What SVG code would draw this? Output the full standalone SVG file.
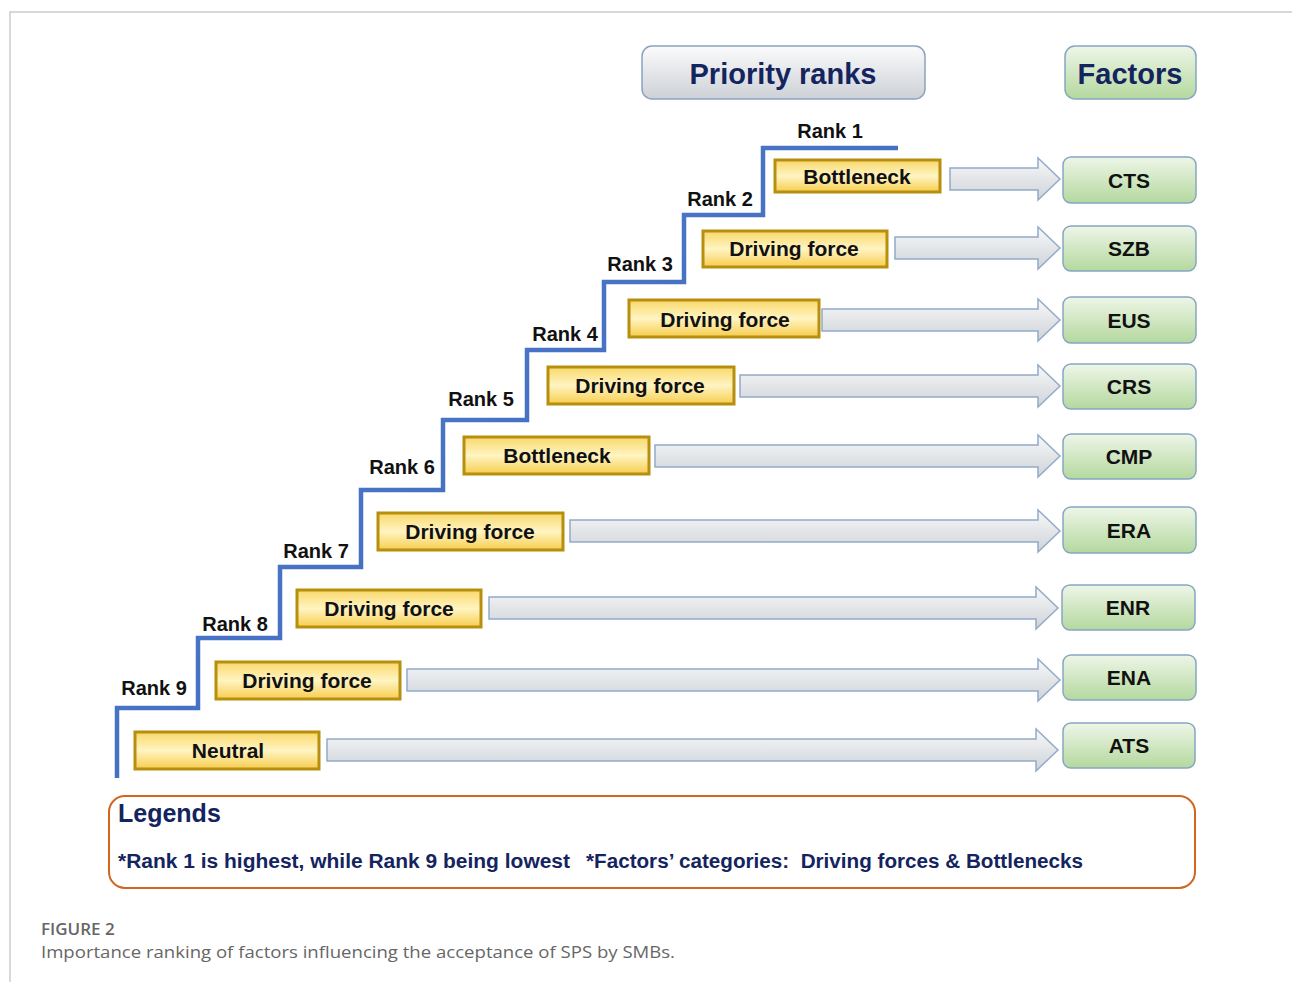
<svg xmlns="http://www.w3.org/2000/svg" width="1292" height="982" viewBox="0 0 1292 982">
<defs>
<linearGradient id="gHead" x1="0" y1="0" x2="0" y2="1"><stop offset="0" stop-color="#fbfbfc"/><stop offset="1" stop-color="#cdd1d6"/></linearGradient>
<linearGradient id="gGreen" x1="0" y1="0" x2="0" y2="1"><stop offset="0" stop-color="#eef6e8"/><stop offset="1" stop-color="#b4d89e"/></linearGradient>
<linearGradient id="gYel" x1="0" y1="0" x2="0" y2="1"><stop offset="0" stop-color="#f9d86a"/><stop offset="0.5" stop-color="#fff4c2"/><stop offset="1" stop-color="#f6cd4e"/></linearGradient>
<linearGradient id="gArr" x1="0" y1="0" x2="0" y2="1"><stop offset="0" stop-color="#f7f8f9"/><stop offset="1" stop-color="#cfd3d8"/></linearGradient>
<linearGradient id="gStep" x1="0" y1="0" x2="1" y2="1"><stop offset="0" stop-color="#5b86d6"/><stop offset="1" stop-color="#2f5bb0"/></linearGradient>
</defs>
<style>
.hb{fill:url(#gHead);stroke:#8aa3c0;stroke-width:1.5}
.gb{fill:url(#gGreen);stroke:#86a6c4;stroke-width:1.5}
.yb{fill:url(#gYel);stroke:#b78f0c;stroke-width:3}
.ar{fill:url(#gArr);stroke:#93abc8;stroke-width:1.5}
.ht{font-family:"Liberation Sans",Arial,sans-serif;font-weight:bold;font-size:29px;fill:#14245e;text-anchor:middle}
.bt{font-family:"Liberation Sans",Arial,sans-serif;font-weight:bold;font-size:21px;fill:#111;text-anchor:middle}
.rt{font-family:"Liberation Sans",Arial,sans-serif;font-weight:bold;font-size:20px;fill:#111;text-anchor:middle}
.lg{font-family:"Liberation Sans",Arial,sans-serif;font-weight:bold;fill:#14245e}
.cap{font-family:"Open Sans","Liberation Sans",sans-serif;fill:#666}
</style>
<rect width="1292" height="982" fill="#fff"/>
<path d="M10 982 V12 H1292" fill="none" stroke="#cccccc" stroke-width="1.5"/>

<g id="header-priority"><rect class="hb" x="642" y="46" width="283" height="53" rx="10"/><text class="ht" x="783" y="84">Priority ranks</text></g>
<g id="header-factors"><rect class="gb" x="1065" y="46" width="131" height="53" rx="10"/><text class="ht" x="1130" y="84">Factors</text></g>

<g id="connectors">
<path d="M117 778 V708 H198 V638 H280 V567 H361 V490 H443 V420 H527 V350 H604 V282 H684 V215 H763 V148 H898" fill="none" stroke="url(#gStep)" stroke-width="4.5"/>
<path class="ar" d="M950 168 H1038 V158 L1060 179 L1038 200 V190 H950 Z"/>
<path class="ar" d="M895 237 H1038 V227 L1060 248 L1038 269 V259 H895 Z"/>
<path class="ar" d="M822 309 H1038 V299 L1060 320 L1038 341 V331 H822 Z"/>
<path class="ar" d="M740 375 H1038 V365 L1060 386 L1038 407 V397 H740 Z"/>
<path class="ar" d="M655 445 H1038 V435 L1060 456 L1038 477 V467 H655 Z"/>
<path class="ar" d="M570 520 H1038 V510 L1060 531 L1038 552 V542 H570 Z"/>
<path class="ar" d="M489 597 H1036 V587 L1058 608 L1036 629 V619 H489 Z"/>
<path class="ar" d="M407 669 H1038 V659 L1060 680 L1038 701 V691 H407 Z"/>
<path class="ar" d="M327 739 H1036 V729 L1058 750 L1036 771 V761 H327 Z"/>
</g>

<g id="rank-labels">
<text class="rt" x="830" y="138">Rank 1</text>
<text class="rt" x="720" y="206">Rank 2</text>
<text class="rt" x="640" y="271">Rank 3</text>
<text class="rt" x="565" y="341">Rank 4</text>
<text class="rt" x="481" y="406">Rank 5</text>
<text class="rt" x="402" y="474">Rank 6</text>
<text class="rt" x="316" y="558">Rank 7</text>
<text class="rt" x="235" y="631">Rank 8</text>
<text class="rt" x="154" y="695">Rank 9</text>
</g>

<g id="cat-1"><rect class="yb" x="775" y="160" width="165" height="32"/><text class="bt" x="857" y="184">Bottleneck</text></g>
<g id="cat-2"><rect class="yb" x="703" y="231" width="184" height="36"/><text class="bt" x="794" y="256">Driving force</text></g>
<g id="cat-3"><rect class="yb" x="629" y="300" width="190" height="37"/><text class="bt" x="725" y="327">Driving force</text></g>
<g id="cat-4"><rect class="yb" x="548" y="367" width="186" height="37"/><text class="bt" x="640" y="393">Driving force</text></g>
<g id="cat-5"><rect class="yb" x="464" y="437" width="185" height="37"/><text class="bt" x="557" y="463">Bottleneck</text></g>
<g id="cat-6"><rect class="yb" x="378" y="513" width="185" height="37"/><text class="bt" x="470" y="539">Driving force</text></g>
<g id="cat-7"><rect class="yb" x="297" y="590" width="184" height="37"/><text class="bt" x="389" y="616">Driving force</text></g>
<g id="cat-8"><rect class="yb" x="216" y="662" width="184" height="37"/><text class="bt" x="307" y="688">Driving force</text></g>
<g id="cat-9"><rect class="yb" x="135" y="732" width="184" height="37"/><text class="bt" x="228" y="758">Neutral</text></g>

<g id="f-cts"><rect class="gb" x="1063" y="157" width="133" height="46" rx="8"/><text class="bt" x="1129" y="188">CTS</text></g>
<g id="f-szb"><rect class="gb" x="1063" y="226" width="133" height="45" rx="8"/><text class="bt" x="1129" y="256">SZB</text></g>
<g id="f-eus"><rect class="gb" x="1063" y="297" width="133" height="46" rx="8"/><text class="bt" x="1129" y="328">EUS</text></g>
<g id="f-crs"><rect class="gb" x="1063" y="364" width="133" height="45" rx="8"/><text class="bt" x="1129" y="394">CRS</text></g>
<g id="f-cmp"><rect class="gb" x="1063" y="434" width="133" height="45" rx="8"/><text class="bt" x="1129" y="464">CMP</text></g>
<g id="f-era"><rect class="gb" x="1063" y="507" width="133" height="46" rx="8"/><text class="bt" x="1129" y="538">ERA</text></g>
<g id="f-enr"><rect class="gb" x="1062" y="585" width="133" height="45" rx="8"/><text class="bt" x="1128" y="615">ENR</text></g>
<g id="f-ena"><rect class="gb" x="1063" y="655" width="133" height="45" rx="8"/><text class="bt" x="1129" y="685">ENA</text></g>
<g id="f-ats"><rect class="gb" x="1063" y="723" width="132" height="45" rx="8"/><text class="bt" x="1129" y="753">ATS</text></g>

<g id="legend">
<rect x="109" y="796" width="1086" height="92" rx="16" fill="#fff" stroke="#d2651f" stroke-width="2"/>
<text class="lg" x="118" y="822" font-size="25">Legends</text>
<text class="lg" x="118" y="868" font-size="20" textLength="452" lengthAdjust="spacingAndGlyphs">*Rank 1 is highest, while Rank 9 being lowest</text>
<text class="lg" x="586" y="868" font-size="20" textLength="497" lengthAdjust="spacingAndGlyphs" xml:space="preserve">*Factors’ categories:  Driving forces &amp; Bottlenecks</text>
</g>

<g id="caption">
<text class="cap" x="41" y="935" font-size="17" font-weight="600" fill="#6b6b6b">FIGURE 2</text>
<text class="cap" x="41" y="958" font-size="17" textLength="634" lengthAdjust="spacingAndGlyphs">Importance ranking of factors influencing the acceptance of SPS by SMBs.</text>
</g>
</svg>
